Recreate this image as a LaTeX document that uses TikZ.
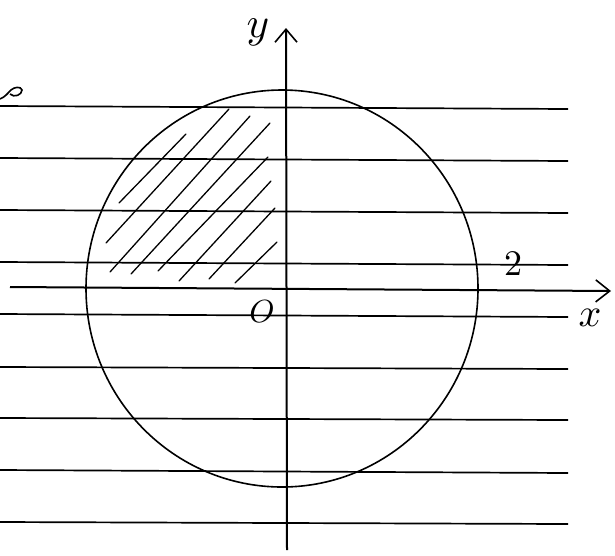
\documentclass[tikz,border=0pt]{standalone}
\usetikzlibrary{arrows.meta}
\begin{document}
\begin{tikzpicture}[x=1pt,y=-1pt,
  ruled/.style={line width=1.7pt,black},
  axis/.style={line width=2pt,black},
  curve/.style={line width=1.6pt,black},
  hatch/.style={line width=1.3pt,black,line cap=round},
  lbl/.style={inner sep=0pt}]
\useasboundingbox (0,0) rectangle (615,555);
\fill[white] (0,0) rectangle (615,555);
% ruled lines of the paper
\foreach \yl/\yr in {106/109,158/161,210/213,262/265,314/317,367/369,418/420,470/473,522/524}
  \draw[ruled] (0,\yl) -- (568,\yr);
% circle
\draw[curve] (282,288.5) ellipse [x radius=196, y radius=198.5];
% hatching
\foreach \a/\b/\c/\d in {119/203/186/134, 106/243/229/109, 110/272/250/116, 131/274/270/123,
  158/271/268/157, 179/281/271/181, 209/279/275/208, 235/283/277/242}
  \draw[hatch] (\a,\b) -- (\c,\d);
% axes
\coordinate (xs) at (10,287);
\coordinate (xe) at (611,291);
\coordinate (ys) at (287,550);
\coordinate (ye) at (286,28);
\draw[axis,-{Straight Barb[length=14pt,width=22pt,line width=1.6pt]}] (xs) -- (xe);
\draw[axis,-{Straight Barb[length=13pt,width=22pt,line width=1.6pt]}] (ys) -- (ye);
% labels
\node[lbl,scale=4.3] (ylab) at (258,32) {$y$};
\node[lbl,scale=4] (xlab) at (590,318) {$x$};
\node[lbl,scale=3.6] (two) at (513,264) {$2$};
\node[lbl,scale=3.2] (orig) at (262,312) {$O$};
% curl at top left
\draw[curve] (0,99) .. controls (5,97) and (8,93) .. (11,90)
  .. controls (14,87) and (21,86) .. (22,90)
  .. controls (22,95) and (14,98) .. (10,94);
\end{tikzpicture}
\end{document}
